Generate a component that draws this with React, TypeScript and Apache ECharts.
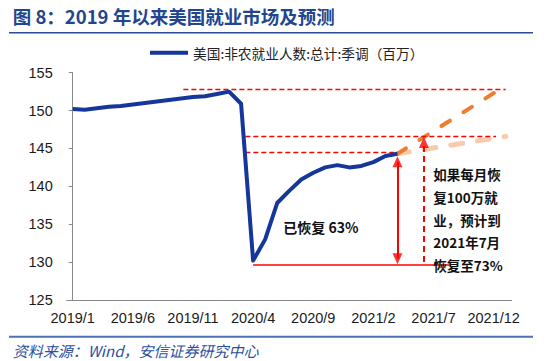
import React, { useEffect, useRef } from 'react';
import * as echarts from 'echarts';

// ---- data ----
const months = [
  '2019/1', '2019/2', '2019/3', '2019/4', '2019/5', '2019/6', '2019/7', '2019/8', '2019/9', '2019/10', '2019/11', '2019/12',
  '2020/1', '2020/2', '2020/3', '2020/4', '2020/5', '2020/6', '2020/7', '2020/8', '2020/9', '2020/10', '2020/11', '2020/12',
  '2021/1', '2021/2', '2021/3', '2021/4', '2021/5', '2021/6', '2021/7', '2021/8', '2021/9', '2021/10', '2021/11', '2021/12',
  '2022/1',
];
const employment = [
  150.2, 150.1, 150.3, 150.5, 150.6, 150.8, 151.0, 151.2, 151.4, 151.6, 151.8, 151.9,
  152.2, 152.5, 150.9, 130.2, 133.0, 137.8, 139.4, 140.9, 141.8, 142.5, 142.8, 142.5,
  142.7, 143.2, 144.0, 144.3,
];
const forecastMonths = ['2021/4', '2022/1'];
const fastRecovery = [144.3, 153.3];
const slowRecovery = [144.3, 146.6];
const seriesName = '美国:非农就业人数:总计:季调（百万）';

// reference lines in month-index units: [xStart, xEnd, level]
const dashedRefs = [
  [9.2, 36.0, 152.8],
  [14.35, 35.2, 146.65],
  [14.35, 27, 144.55],
];
const troughRef = [15, 31.4, 129.6];
// vertical arrows: [x, yBottom, yTop]
const recoveredArrow = [27, 130.45, 143.25];
const projectedArrow = [29.2, 130.0, 145.8];
// arrowheads: [x, y, rotation]
const arrowHeads = [
  [27, 143.25, 0],
  [27, 130.45, 180],
  [29.2, 145.8, 0],
];

const RED = '#ff0000';
const AXIS = '#898989';

export default function App() {
  const ref = useRef<HTMLDivElement>(null);
  useEffect(() => {
    if (!ref.current) return;
    const chart = echarts.init(ref.current, undefined, { renderer: 'svg' });
    const redDash = { color: RED, width: 1.3, type: [5, 3] as any };
    const mlData: any[] = [];
    dashedRefs.forEach(([a, b, y]) => {
      mlData.push([{ coord: [a, y], lineStyle: redDash }, { coord: [b, y], lineStyle: redDash }]);
    });
    const solid = { color: RED, width: 1.5, type: 'solid' };
    mlData.push([{ coord: [troughRef[0], troughRef[2]], lineStyle: solid }, { coord: [troughRef[1], troughRef[2]], lineStyle: solid }]);
    const arrowSolid = { color: RED, width: 2, type: 'solid' };
    mlData.push([
      { coord: [recoveredArrow[0], recoveredArrow[1]], lineStyle: arrowSolid },
      { coord: [recoveredArrow[0], recoveredArrow[2]], lineStyle: arrowSolid },
    ]);
    const arrowDash = { color: RED, width: 2, type: [6, 4] as any };
    mlData.push([
      { coord: [projectedArrow[0], projectedArrow[1]], lineStyle: arrowDash },
      { coord: [projectedArrow[0], projectedArrow[2]], lineStyle: arrowDash },
    ]);

    const option: any = {
      animation: false,
      backgroundColor: '#ffffff',
      grid: { left: 66.7, top: 72.7, width: 445, height: 227.3 },
      legend: {
        data: [seriesName],
        left: 150,
        top: 46,
        padding: 0,
        icon: 'rect',
        itemWidth: 38,
        itemHeight: 4,
        textStyle: { fontSize: 13.7, color: '#222', fontFamily: 'Noto Sans CJK SC' },
      },
      xAxis: [
        {
          type: 'category',
          data: months,
          boundaryGap: true,
          axisLine: { lineStyle: { color: AXIS, width: 1 } },
          axisTick: { inside: true, length: 4, interval: 4, lineStyle: { color: AXIS } },
          axisLabel: { interval: 4, margin: 10, fontSize: 14.5, color: '#1a1a1a', fontFamily: 'Liberation Sans, Arial' },
          splitLine: { show: false },
        },
        { type: 'value', min: -0.5, max: 36.5, show: false },
      ],
      yAxis: {
        type: 'value',
        min: 125,
        max: 155,
        interval: 5,
        axisLine: { show: true, lineStyle: { color: AXIS, width: 1 } },
        axisTick: { show: true, length: 4, lineStyle: { color: AXIS } },
        axisLabel: { margin: 14, fontSize: 14.5, color: '#1a1a1a', fontFamily: 'Liberation Sans, Arial' },
        splitLine: { show: false },
      },
      series: [
        {
          type: 'line',
          name: 'slow',
          xAxisIndex: 0,
          data: forecastMonths.map((m, i) => [m, slowRecovery[i]]),
          symbol: 'none',
          lineStyle: { color: '#f8cbad', width: 5, type: [12, 15], cap: 'round' },
          z: 3,
        },
        {
          type: 'line',
          name: 'fast',
          xAxisIndex: 0,
          data: forecastMonths.map((m, i) => [m, fastRecovery[i]]),
          symbol: 'none',
          lineStyle: { color: '#ed7d31', width: 4, type: [10, 16], cap: 'round' },
          z: 4,
        },
        {
          type: 'line',
          name: 'annotations',
          xAxisIndex: 1,
          data: [],
          markLine: {
            silent: true,
            symbol: ['none', 'none'],
            label: { show: false },
            emphasis: { disabled: true },
            data: mlData,
          },
          z: 2,
        },
        {
          type: 'scatter',
          name: 'heads',
          xAxisIndex: 1,
          silent: true,
          symbol: 'triangle',
          symbolSize: [10, 11],
          itemStyle: { color: RED },
          data: arrowHeads.map(([x, y, r]) => ({ value: [x, y], symbolRotate: r })),
          z: 6,
        },
        {
          type: 'line',
          name: seriesName,
          xAxisIndex: 0,
          data: employment,
          symbol: 'none',
          lineStyle: { color: '#15369a', width: 4, join: 'round' },
          itemStyle: { color: '#15369a' },
          z: 5,
        },
      ],
      graphic: [
        {
          type: 'text', x: 12.7, y: 16,
          style: {
            text: '图 8：2019 年以来美国就业市场及预测',
            fill: '#21468f', fontSize: 18.5, fontWeight: 'bold', fontFamily: 'Noto Sans CJK SC',
            align: 'left', verticalAlign: 'middle',
          },
        },
        { type: 'line', shape: { x1: 9, y1: 32.7, x2: 533, y2: 32.7 }, style: { stroke: '#2a4e96', lineWidth: 1.5 } },
        { type: 'line', shape: { x1: 9, y1: 336.7, x2: 533, y2: 336.7 }, style: { stroke: '#4d72b5', lineWidth: 2 } },
        {
          type: 'text', x: 12.7, y: 350,
          style: {
            text: '资料来源：Wind，安信证券研究中心',
            fill: '#2d4f9e', fontSize: 15, fontStyle: 'italic', fontFamily: 'Noto Sans CJK SC',
            align: 'left', verticalAlign: 'middle',
          },
        },
        {
          type: 'text', x: 283.3, y: 226.7, z: 10,
          style: {
            text: '已恢复 63%',
            fill: '#111', fontSize: 14, fontWeight: 'bold', fontFamily: 'Noto Sans CJK SC',
            align: 'left', verticalAlign: 'middle',
          },
        },
        {
          type: 'text', x: 433.3, y: 163, z: 10,
          style: {
            text: '如果每月恢\n复100万就\n业，预计到\n2021年7月\n恢复至73%',
            fill: '#111', fontSize: 13.5, fontWeight: 'bold', fontFamily: 'Noto Sans CJK SC',
            lineHeight: 22.7, align: 'left', verticalAlign: 'top',
          },
        },
      ],
    };
    chart.setOption(option);
    return () => chart.dispose();
  }, []);
  return <div ref={ref} style={{ position: 'absolute', left: 0, top: 0, width: 550, height: 361 }} />;
}
